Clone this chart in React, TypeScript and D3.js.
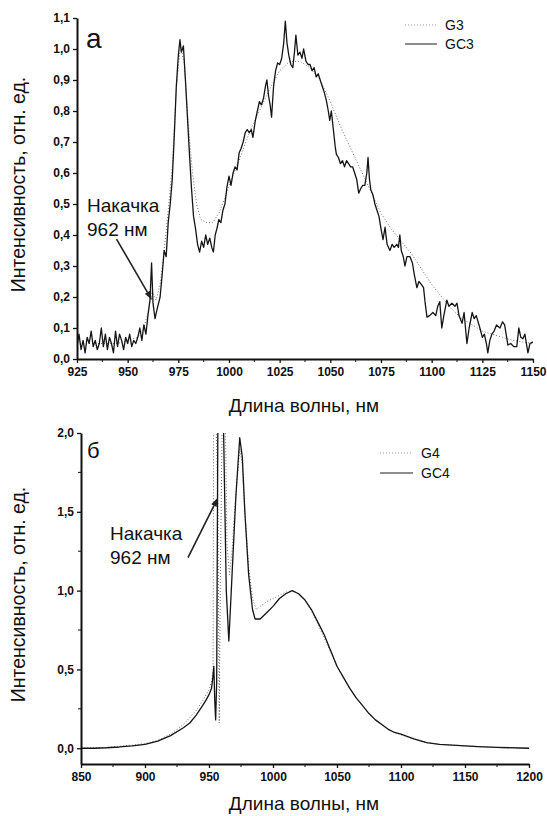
import React, { useRef, useEffect } from "react";
import * as d3 from "d3";

// ---- panel (а): spectra G3 / GC3 ----
const gc3: [number, number][] = [
  [925, 0.04], [926, 0.08], [927, 0.03], [928, 0.06], [929, 0.02], [930, 0.07], [931, 0.05], [932, 0.09],
  [933, 0.04], [934, 0.06], [935, 0.03], [936, 0.05], [937, 0.1], [938, 0.04], [939, 0.08], [940, 0.03],
  [941, 0.07], [942, 0.05], [943, 0.02], [944, 0.09], [945, 0.04], [946, 0.08], [947, 0.06], [948, 0.03],
  [949, 0.07], [950, 0.05], [951, 0.08], [952, 0.04], [953, 0.06], [954, 0.05], [955, 0.07], [956, 0.1],
  [957, 0.06], [958, 0.11], [959, 0.08], [960, 0.14], [961, 0.19], [961.8, 0.31], [962.5, 0.18], [963.5, 0.13],
  [964.5, 0.16], [966, 0.2], [967, 0.27], [968, 0.35], [969, 0.33], [970, 0.44], [971, 0.5], [972, 0.58],
  [973, 0.72], [974, 0.88], [975, 0.98], [975.8, 1.03], [976.5, 0.99], [977.5, 1.01], [978.5, 0.9], [979.5, 0.78],
  [980.5, 0.66], [981.5, 0.55], [982.5, 0.46], [983.5, 0.42], [984.5, 0.37], [985.5, 0.345], [986.5, 0.38],
  [987.5, 0.36], [988.5, 0.4], [989.5, 0.37], [990.5, 0.39], [991.5, 0.36], [992.3, 0.345], [993.2, 0.4],
  [994, 0.42], [995, 0.45], [996, 0.44], [997, 0.48], [998, 0.5], [999, 0.555], [1000, 0.59], [1001, 0.56],
  [1002, 0.6], [1003, 0.62], [1004, 0.61], [1005, 0.665], [1006, 0.68], [1007, 0.7], [1008, 0.73], [1009, 0.74],
  [1010, 0.73], [1011, 0.74], [1011.8, 0.715], [1013, 0.77], [1014, 0.8], [1015, 0.83], [1016, 0.82], [1017, 0.84],
  [1018, 0.88], [1018.7, 0.9], [1019.5, 0.85], [1020.3, 0.82], [1021, 0.78], [1022, 0.88], [1023, 0.93],
  [1024, 0.955], [1025, 0.95], [1026, 0.97], [1027, 1.02], [1027.8, 1.09], [1028.6, 1.02], [1029.5, 0.98],
  [1030.5, 0.95], [1031.5, 0.94], [1032.3, 0.99], [1033, 1.045], [1034, 0.98], [1035, 0.99], [1036, 0.97],
  [1036.8, 1.0], [1038, 0.96], [1039, 0.95], [1040, 0.95], [1041, 0.93], [1042, 0.94], [1043, 0.91], [1044, 0.92],
  [1045, 0.9], [1046, 0.88], [1047, 0.86], [1048, 0.835], [1049, 0.8], [1049.7, 0.77], [1050.5, 0.8],
  [1051.5, 0.74], [1052.5, 0.68], [1053, 0.66], [1054, 0.65], [1055, 0.63], [1056, 0.64], [1057, 0.62],
  [1058, 0.64], [1059, 0.63], [1060, 0.62], [1061, 0.62], [1062, 0.6], [1063, 0.58], [1064, 0.535], [1065, 0.55],
  [1066, 0.56], [1067, 0.56], [1068, 0.6], [1068.6, 0.65], [1069.3, 0.58], [1070, 0.545], [1071, 0.53],
  [1072, 0.5], [1073, 0.48], [1074, 0.46], [1075, 0.42], [1076, 0.385], [1077, 0.425], [1078, 0.37],
  [1079.4, 0.35], [1080.5, 0.37], [1081.5, 0.36], [1082.8, 0.37], [1083.6, 0.36], [1084.3, 0.4], [1085, 0.35],
  [1086, 0.33], [1086.8, 0.3], [1087.8, 0.33], [1089.3, 0.33], [1090.5, 0.31], [1091.5, 0.27], [1092.7, 0.23],
  [1093.7, 0.25], [1095, 0.24], [1096, 0.23], [1096.8, 0.18], [1097.7, 0.135], [1099, 0.14], [1100.6, 0.15],
  [1102, 0.14], [1103, 0.17], [1104, 0.185], [1105, 0.1], [1106, 0.14], [1107.5, 0.19], [1108.5, 0.17],
  [1110, 0.18], [1111.5, 0.17], [1112.5, 0.18], [1113.5, 0.14], [1115, 0.115], [1116, 0.15], [1117.4, 0.05],
  [1118.5, 0.1], [1120, 0.15], [1121, 0.13], [1122, 0.14], [1123.8, 0.1], [1125, 0.07], [1126, 0.08],
  [1127, 0.05], [1127.7, 0.02], [1128.7, 0.06], [1129.7, 0.08], [1130.8, 0.09], [1132, 0.11], [1133.7, 0.1],
  [1135, 0.12], [1136, 0.11], [1137, 0.07], [1137.6, 0.045], [1139, 0.05], [1140.5, 0.04], [1142, 0.04],
  [1143, 0.1], [1144, 0.07], [1145, 0.065], [1146, 0.08], [1147.5, 0.02], [1148.5, 0.05], [1150, 0.055],
];

const g3: [number, number][] = [
  [925, 0.05], [930, 0.05], [935, 0.05], [940, 0.05], [945, 0.05], [950, 0.06], [955, 0.07], [958, 0.1],
  [960, 0.15], [962, 0.22], [964, 0.19], [966, 0.24], [968, 0.35], [970, 0.48], [972, 0.62], [974, 0.87],
  [976, 1.01], [978, 0.95], [980, 0.75], [982, 0.6], [984, 0.5], [986, 0.45], [989, 0.44], [992, 0.44],
  [995, 0.47], [998, 0.52], [1000, 0.56], [1005, 0.64], [1010, 0.73], [1015, 0.8], [1020, 0.87], [1025, 0.93],
  [1030, 0.96], [1035, 0.96], [1040, 0.94], [1045, 0.9], [1050, 0.83], [1055, 0.75], [1060, 0.68], [1065, 0.61],
  [1070, 0.54], [1075, 0.47], [1080, 0.42], [1085, 0.38], [1090, 0.34], [1095, 0.29], [1100, 0.24], [1105, 0.2],
  [1110, 0.16], [1115, 0.13], [1120, 0.11], [1125, 0.09], [1130, 0.08], [1135, 0.07], [1140, 0.06],
  [1145, 0.055], [1150, 0.05],
];

// ---- panel (б): spectra G4 / GC4 ----
const gc4: [number, number][] = [
  [850, 0.0], [860, 0.0], [870, 0.003], [880, 0.008], [890, 0.015], [900, 0.025], [910, 0.045], [920, 0.08],
  [930, 0.13], [935, 0.16], [940, 0.21], [945, 0.27], [948, 0.31], [950, 0.34], [952, 0.38], [953, 0.45],
  [953.8, 0.52], [954.5, 0.3], [955.2, 0.18], [956, 0.42], [957, 2.2], [959, 2.3], [961, 2.2], [963.5, 1.0],
  [965.5, 0.68], [968, 1.1], [971, 1.6], [974, 1.97], [976, 1.85], [978, 1.5], [981, 1.1], [984, 0.88],
  [986, 0.82], [990, 0.82], [995, 0.86], [1000, 0.9], [1005, 0.95], [1010, 0.98], [1015, 1.0], [1020, 0.98],
  [1025, 0.94], [1030, 0.88], [1035, 0.8], [1040, 0.72], [1045, 0.62], [1050, 0.52], [1055, 0.45], [1060, 0.38],
  [1065, 0.32], [1070, 0.27], [1075, 0.22], [1080, 0.18], [1085, 0.15], [1090, 0.12], [1095, 0.1], [1100, 0.09],
  [1110, 0.06], [1120, 0.035], [1130, 0.025], [1140, 0.02], [1150, 0.015], [1160, 0.01], [1175, 0.005], [1200, 0.0],
];

const g4: [number, number][] = [
  [850, 0.0], [870, 0.005], [890, 0.02], [900, 0.03], [910, 0.05], [920, 0.09], [930, 0.15], [940, 0.24],
  [945, 0.3], [950, 0.37], [952, 0.42], [953.2, 0.5], [953.6, 2.2], [955, 2.3], [957, 1.5], [958, 0.16],
  [959, 1.2], [960.5, 2.2], [962.6, 2.2], [964, 1.3], [966, 1.1], [968, 1.25], [970, 1.5], [972, 1.7],
  [974, 1.9], [976, 1.8], [978, 1.5], [981, 1.15], [984, 0.95], [987, 0.88], [990, 0.9], [995, 0.93],
  [1000, 0.95], [1005, 0.97], [1010, 0.99], [1015, 1.0], [1020, 0.98], [1025, 0.94], [1030, 0.87], [1035, 0.79],
  [1040, 0.7], [1045, 0.61], [1050, 0.52], [1055, 0.45], [1060, 0.38], [1065, 0.32], [1070, 0.27], [1075, 0.22],
  [1080, 0.18], [1085, 0.15], [1090, 0.12], [1095, 0.1], [1100, 0.085], [1110, 0.06], [1120, 0.035],
  [1130, 0.025], [1140, 0.02], [1150, 0.015], [1175, 0.005], [1200, 0.0],
];

// ticks
const topXTicks = [925, 950, 975, 1000, 1025, 1050, 1075, 1100, 1125, 1150];
const topXMinor = [937.5, 962.5, 987.5, 1012.5, 1037.5, 1062.5, 1087.5, 1112.5, 1137.5];
const topYTicks = [0, 0.1, 0.2, 0.3, 0.4, 0.5, 0.6, 0.7, 0.8, 0.9, 1.0, 1.1];
const botXTicks = [850, 900, 950, 1000, 1050, 1100, 1150, 1200];
const botXMinor = [875, 925, 975, 1025, 1075, 1125, 1175];
const botYTicks = [0, 0.5, 1.0, 1.5, 2.0];
const botYMinor = [0.25, 0.75, 1.25, 1.75];

const FONT = "Arial, 'Liberation Sans', sans-serif";
const fmtY = (d: number) => d3.format(".1f")(d).replace(".", ",");

function Panel({ id, xDomain, yDomain, xRange, yRange, xTicks, xMinor, yTicks, yMinor, solid, dotted,
  letter, letterSize, legend, legendPos, note, arrowFrom, arrowTo, titleY }: any) {
  const gRef = useRef<SVGGElement>(null);

  useEffect(() => {
    const g = d3.select(gRef.current);
    g.selectAll("*").remove();

    const x = d3.scaleLinear().domain(xDomain).range(xRange);
    const y = d3.scaleLinear().domain(yDomain).range(yRange);

    g.append("clipPath").attr("id", id)
      .append("rect")
      .attr("x", xRange[0]).attr("y", yRange[1])
      .attr("width", xRange[1] - xRange[0]).attr("height", yRange[0] - yRange[1]);

    const lineGen = d3.line<[number, number]>().x((d) => x(d[0])).y((d) => y(d[1]));

    const content = g.append("g").attr("clip-path", `url(#${id})`);
    content.append("path").datum(dotted)
      .attr("d", lineGen).attr("fill", "none")
      .attr("stroke", "#707070").attr("stroke-width", 1)
      .attr("stroke-dasharray", "1,2");
    content.append("path").datum(solid)
      .attr("d", lineGen).attr("fill", "none")
      .attr("stroke", "#151515").attr("stroke-width", 1.3)
      .attr("stroke-linejoin", "round");

    // axes
    const xAxis = d3.axisBottom(x).tickValues(xTicks).tickSize(4).tickSizeOuter(0).tickPadding(4)
      .tickFormat((d: any) => String(d));
    const gx = g.append("g").attr("transform", `translate(0, ${yRange[0]})`).call(xAxis);
    gx.selectAll(".tick").filter((d: any) => xMinor.includes(d)).remove();
    g.append("g").attr("transform", `translate(0, ${yRange[0]})`)
      .selectAll("line").data(xMinor).join("line")
      .attr("x1", (d: number) => x(d)).attr("x2", (d: number) => x(d))
      .attr("y1", 0).attr("y2", 3).attr("stroke", "#111").attr("stroke-width", 1);

    const yAxis = d3.axisLeft(y).tickValues(yTicks).tickSize(4).tickSizeOuter(0).tickPadding(3)
      .tickFormat((d: any) => fmtY(d));
    const gy = g.append("g").attr("transform", `translate(${xRange[0]}, 0)`).call(yAxis);
    g.append("g").attr("transform", `translate(${xRange[0]}, 0)`)
      .selectAll("line").data(yMinor).join("line")
      .attr("x1", 0).attr("x2", -3)
      .attr("y1", (d: number) => y(d)).attr("y2", (d: number) => y(d))
      .attr("stroke", "#111").attr("stroke-width", 1);

    [gx, gy].forEach((a) => {
      a.attr("font-family", FONT).attr("font-weight", "bold").attr("font-size", 12);
      a.select(".domain").attr("stroke", "#111").attr("stroke-width", 2);
      a.selectAll(".tick line").attr("stroke", "#111").attr("stroke-width", 1.3);
      a.selectAll(".tick text").attr("fill", "#111")
        .style("font-weight", "700").style("font-family", FONT).style("font-size", "12px");
    });

    // titles
    g.append("text").attr("x", 304).attr("y", titleY)
      .attr("text-anchor", "middle").attr("font-family", FONT).attr("font-size", 19).attr("fill", "#111")
      .text("Длина волны, нм");
    const cy = (yRange[0] + yRange[1]) / 2 - 4;
    g.append("text").attr("transform", `translate(25, ${cy}) rotate(-90)`)
      .attr("text-anchor", "middle").attr("font-family", FONT).attr("font-size", 19.5).attr("fill", "#111")
      .text("Интенсивность, отн. ед.");

    // panel letter
    g.append("text").attr("x", letter.x).attr("y", letter.y)
      .attr("font-family", FONT).attr("font-size", letterSize).attr("fill", "#111").text(letter.t);

    // legend
    legend.forEach((item: any, i: number) => {
      const ly = legendPos.y + i * legendPos.dy;
      g.append("line").attr("x1", legendPos.x1).attr("x2", legendPos.x2)
        .attr("y1", ly).attr("y2", ly)
        .attr("stroke", item.dotted ? "#999" : "#1c1c1c").attr("stroke-width", 1)
        .attr("stroke-dasharray", item.dotted ? "1,2" : null);
      g.append("text").attr("x", legendPos.tx).attr("y", ly + 5)
        .attr("font-family", FONT).attr("font-size", 14).attr("fill", "#111").text(item.label);
    });

    // pump annotation
    g.append("text").attr("x", note.x).attr("y", note.y)
      .attr("font-family", FONT).attr("font-size", 19).attr("fill", "#111").text("Накачка");
    g.append("text").attr("x", note.x).attr("y", note.y + 24)
      .attr("font-family", FONT).attr("font-size", 19).attr("fill", "#111").text("962 нм");

    const x1 = x(arrowFrom[0]), y1 = y(arrowFrom[1]);
    const x2 = x(arrowTo[0]), y2 = y(arrowTo[1]);
    const ang = Math.atan2(y2 - y1, x2 - x1);
    const hl = 9, hw = 3;
    const bx = x2 - hl * Math.cos(ang), by = y2 - hl * Math.sin(ang);
    g.append("line").attr("x1", x1).attr("y1", y1).attr("x2", bx).attr("y2", by)
      .attr("stroke", "#222").attr("stroke-width", 1.6);
    g.append("path")
      .attr("d", `M${x2},${y2} L${bx + hw * Math.sin(ang)},${by - hw * Math.cos(ang)} L${bx - hw * Math.sin(ang)},${by + hw * Math.cos(ang)} Z`)
      .attr("fill", "#222");
  }, []);

  return <g ref={gRef} />;
}

export default function App() {
  return (
    <svg width={547} height={816} style={{ position: "absolute", left: 0, top: 0, background: "#fff" }}>
      <Panel
        id="clipTop"
        xDomain={[925, 1150]} xRange={[77, 533]}
        yDomain={[0, 1.1]} yRange={[359, 18]}
        xTicks={[...topXTicks, ...topXMinor]} xMinor={topXMinor}
        yTicks={topYTicks} yMinor={[]}
        solid={gc3} dotted={g3}
        letter={{ t: "а", x: 86, y: 48 }} letterSize={28}
        legend={[{ label: "G3", dotted: true }, { label: "GC3", dotted: false }]}
        legendPos={{ x1: 405, x2: 437, tx: 445, y: 25, dy: 19 }}
        note={{ x: 87, y: 212 }}
        arrowFrom={[944.5, 0.387]} arrowTo={[962, 0.19]}
        titleY={412}
      />
      <Panel
        id="clipBottom"
        xDomain={[850, 1200]} xRange={[81, 529]}
        yDomain={[-0.1, 2.0]} yRange={[764, 433]}
        xTicks={[...botXTicks, ...botXMinor]} xMinor={botXMinor}
        yTicks={botYTicks} yMinor={botYMinor}
        solid={gc4} dotted={g4}
        letter={{ t: "б", x: 87, y: 458 }} letterSize={22}
        legend={[{ label: "G4", dotted: true }, { label: "GC4", dotted: false }]}
        legendPos={{ x1: 380, x2: 413, tx: 421, y: 453, dy: 20 }}
        note={{ x: 110, y: 540 }}
        arrowFrom={[933.6, 1.21]} arrowTo={[957, 1.59]}
        titleY={810}
      />
    </svg>
  );
}
